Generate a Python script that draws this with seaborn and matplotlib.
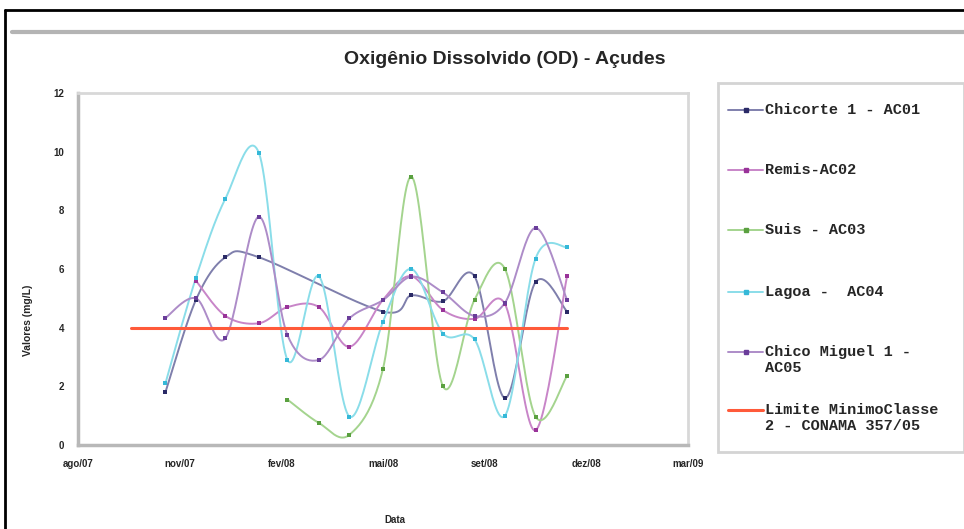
import numpy as np
import pandas as pd
import matplotlib
matplotlib.use("Agg")
import matplotlib.pyplot as plt
import seaborn as sns
from matplotlib.lines import Line2D
from matplotlib.patches import Rectangle

# ---------------- data ----------------
title = "Oxigênio Dissolvido (OD) - Açudes"
y_label = "Valores (mg/L)"
x_label = "Data"

chicorte_dates = ["2007-10-26", "2007-11-25", "2007-12-24", "2008-01-26", "2008-05-27",
                  "2008-06-24", "2008-07-25", "2008-08-25", "2008-09-24", "2008-10-24", "2008-11-24"]
chicorte_vals = [1.8, 4.95, 6.4, 6.4, 4.55, 5.1, 4.9, 5.75, 1.6, 5.55, 4.55]

remis_dates = ["2007-11-25", "2007-12-24", "2008-01-26", "2008-02-23", "2008-03-25", "2008-04-24",
               "2008-05-27", "2008-06-24", "2008-07-25", "2008-08-25", "2008-09-24", "2008-10-24", "2008-11-24"]
remis_vals = [5.6, 4.4, 4.15, 4.7, 4.7, 3.35, 4.95, 5.75, 4.6, 4.3, 4.8, 0.5, 5.75]

suis_dates = ["2008-02-23", "2008-03-25", "2008-04-24", "2008-05-27", "2008-06-24",
              "2008-07-25", "2008-08-25", "2008-09-24", "2008-10-24", "2008-11-24"]
suis_vals = [1.55, 0.75, 0.35, 2.6, 9.15, 2.0, 4.95, 6.0, 0.97, 2.35]

lagoa_dates = ["2007-10-26", "2007-11-25", "2007-12-24", "2008-01-26", "2008-02-23", "2008-03-25", "2008-04-24",
               "2008-05-27", "2008-06-24", "2008-07-25", "2008-08-25", "2008-09-24", "2008-10-24", "2008-11-24"]
lagoa_vals = [2.1, 5.7, 8.4, 9.95, 2.9, 5.75, 0.97, 4.2, 6.0, 3.8, 3.6, 1.0, 6.35, 6.75]

chicom_dates = ["2007-10-26", "2007-11-25", "2007-12-24", "2008-01-26", "2008-02-23", "2008-03-25", "2008-04-24",
                "2008-05-27", "2008-06-24", "2008-07-25", "2008-08-25", "2008-09-24", "2008-10-24", "2008-11-24"]
chicom_vals = [4.33, 5.0, 3.64, 7.78, 3.75, 2.9, 4.32, 4.94, 5.74, 5.2, 4.4, 4.85, 7.4, 4.95]

limite_dates = ["2007-09-22", "2008-11-24"]
limite_vals = [4.0, 4.0]

series_names = ["Chicorte 1 - AC01", "Remis-AC02", "Suis - AC03", "Lagoa -  AC04",
                "Chico Miguel 1 - AC05", "Limite MinimoClasse 2 - CONAMA 357/05"]
legend_texts = ["Chicorte 1 - AC01", "Remis-AC02", "Suis - AC03", "Lagoa -  AC04",
                "Chico Miguel 1 -\nAC05", "Limite MinimoClasse\n2 - CONAMA 357/05"]
line_colors = ["#7f7fac", "#c885c8", "#a4d48e", "#8adde9", "#ad8cc8", "#ff5a3a"]
marker_colors = ["#2a2a66", "#993399", "#5aa040", "#35b8d8", "#6a3d9a", "#ff5a3a"]

x_origin = "2007-08-01"
x_tick_days = [0, 100, 200, 300, 400, 500, 600]
x_tick_labels = ["ago/07", "nov/07", "fev/08", "mai/08", "set/08", "dez/08", "mar/09"]
y_ticks = [0, 2, 4, 6, 8, 10, 12]

all_dates = [chicorte_dates, remis_dates, suis_dates, lagoa_dates, chicom_dates, limite_dates]
all_vals = [chicorte_vals, remis_vals, suis_vals, lagoa_vals, chicom_vals, limite_vals]

# ---------------- build tables ----------------
origin = pd.Timestamp(x_origin)
pts_rows = []
for name, ds, vs in zip(series_names, all_dates, all_vals):
    for d, v in zip(ds, vs):
        pts_rows.append({"serie": name, "dia": (pd.Timestamp(d) - origin).days, "valor": v})
pts = pd.DataFrame(pts_rows)


def smooth_curve(x, y, n=24):
    """Excel-like smoothed line (Bezier through the data points)."""
    x = np.asarray(x, float)
    y = np.asarray(y, float)
    if len(x) < 3:
        return x, y
    P = np.column_stack([x, y])
    P = np.vstack([P[0], P, P[-1]])
    out = []
    t = np.linspace(0, 1, n, endpoint=False)
    for i in range(1, len(P) - 2):
        p0, p1, p2, p3 = P[i - 1], P[i], P[i + 1], P[i + 2]
        c1 = p1 + (p2 - p0) / 6.0
        c2 = p2 - (p3 - p1) / 6.0
        seg = ((1 - t) ** 3)[:, None] * p1 + (3 * (1 - t) ** 2 * t)[:, None] * c1 \
            + (3 * (1 - t) * t ** 2)[:, None] * c2 + (t ** 3)[:, None] * p2
        out.append(seg)
    out.append(P[-2][None, :])
    out = np.vstack(out)
    return out[:, 0], out[:, 1]


curve_rows = []
for name in series_names:
    sub = pts[pts.serie == name]
    cx, cy = smooth_curve(sub.dia.values, sub.valor.values)
    for k, (a, b) in enumerate(zip(cx, cy)):
        curve_rows.append({"serie": name, "dia": a, "valor": b, "ordem": k})
curves = pd.DataFrame(curve_rows)

# ---------------- figure ----------------
sns.set_theme(style="white")
plt.rcParams["font.family"] = ["Liberation Sans", "DejaVu Sans"]

fig = plt.figure(figsize=(9.64, 5.29), dpi=100)
W, H = 964, 529


def fx(px):
    return px / W


def fy(py):
    return 1 - py / H


ax = fig.add_axes([fx(78), fy(445), fx(688) - fx(78), fy(93) - fy(445)])

lw_map = {n: (2.2 if n.startswith("Limite") else 1.4) for n in series_names}
for name, lc in zip(series_names, line_colors):
    sub = curves[curves.serie == name]
    sns.lineplot(data=sub, x="dia", y="valor", sort=False, estimator=None, color=lc,
                 linewidth=lw_map[name], ax=ax, legend=False)
for name, mc in zip(series_names[:-1], marker_colors[:-1]):
    sub = pts[pts.serie == name]
    sns.scatterplot(data=sub, x="dia", y="valor", color=mc, marker="s", s=9,
                    linewidth=0, ax=ax, legend=False, zorder=5)

ax.set_xlim(0, 600)
ax.set_ylim(0, 12)
ax.set_xticks(x_tick_days)
ax.set_xticklabels(x_tick_labels, fontsize=7, fontweight="bold")
ax.set_yticks(y_ticks)
ax.set_yticklabels([str(v) for v in y_ticks], fontsize=7, fontweight="bold")
ax.tick_params(axis="both", length=0, pad=10)
ax.set_xlabel("")
ax.set_ylabel("")
for side in ["left", "bottom"]:
    ax.spines[side].set_color("#b8b8b8")
    ax.spines[side].set_linewidth(2.5)
for side in ["top", "right"]:
    ax.spines[side].set_color("#d8d8d8")
    ax.spines[side].set_linewidth(2.0)

# axis labels
fig.text(fx(28), fy(320), y_label, rotation=90, ha="center", va="center",
         fontsize=7.5, fontweight="bold")
fig.text(fx(395), fy(520), x_label, ha="center", va="center", fontsize=7, fontweight="bold")

# title
fig.text(fx(505), fy(60), title, ha="center", va="center", fontsize=14, fontweight="bold")

# frame lines of the chart area
fig.add_artist(Line2D([fx(5), fx(964)], [fy(10), fy(10)], color="black", linewidth=2))
fig.add_artist(Line2D([fx(5), fx(5)], [fy(10), fy(529)], color="black", linewidth=2))
fig.add_artist(Line2D([fx(12), fx(964)], [fy(32), fy(32)], color="#b4b4b4", linewidth=3))

# legend box
fig.add_artist(Rectangle((fx(718), fy(452)), fx(964) - fx(718), fy(83) - fy(452),
                         facecolor="white", edgecolor="#d4d4d4", linewidth=2))
entry_y = [110, 170, 230, 292, 352, 410]
for txt, lc, mc, ey in zip(legend_texts, line_colors, marker_colors, entry_y):
    lw = 2.2 if txt.startswith("Limite") else 1.4
    fig.add_artist(Line2D([fx(728), fx(763)], [fy(ey), fy(ey)], color=lc, linewidth=lw))
    if not txt.startswith("Limite"):
        fig.add_artist(Line2D([fx(745.5)], [fy(ey)], color=mc, marker="s", markersize=3,
                              linestyle="none"))
    fig.text(fx(765), fy(ey - 7), txt, ha="left", va="top", fontsize=11,
             fontweight="bold", family=["Liberation Mono", "DejaVu Sans Mono"],
             linespacing=1.2)

fig.savefig("out.png", dpi=100)
